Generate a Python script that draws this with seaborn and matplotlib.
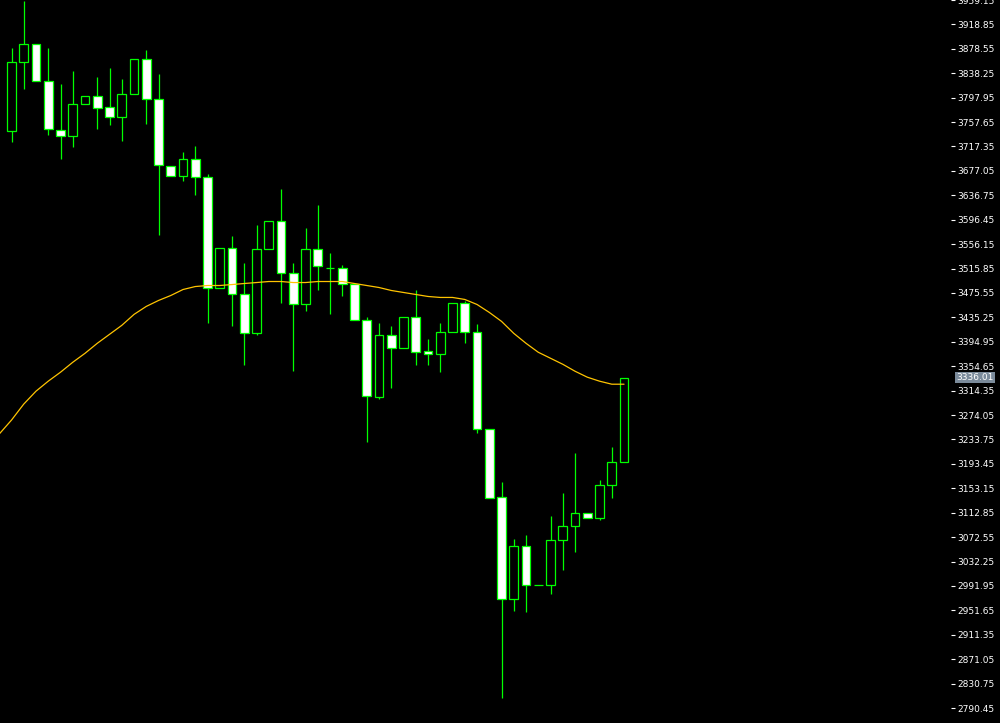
import numpy as np
import pandas as pd
import matplotlib
matplotlib.use("Agg")
import matplotlib.pyplot as plt
import seaborn as sns

# Bar number counted from the left edge of the chart window
bars = list(range(51))

# OHLC prices
open_ = [3742.8, 3856.3, 3885.9, 3825.1, 3744.5, 3734.6, 3787.3, 3800.4, 3782.3, 3765.9,
         3803.7, 3861.3, 3795.5, 3685.3, 3668.8, 3696.8, 3667.2, 3483.0, 3550.4, 3473.1,
         3408.9, 3548.8, 3594.8, 3509.3, 3456.6, 3548.8, 3517.5, 3517.5, 3491.2, 3430.3,
         3303.7, 3405.6, 3384.3, 3435.3, 3379.3, 3374.4, 3410.6, 3458.3, 3410.6, 3251.0,
         3139.2, 2969.7, 3058.6, 2994.4, 2994.4, 3068.4, 3091.5, 3112.9, 3104.6, 3158.9,
         3196.7]
high = [3879.4, 3958.0, 3885.9, 3879.4, 3820.2, 3841.5, 3800.4, 3831.7, 3846.5, 3828.4,
        3861.3, 3876.1, 3836.6, 3685.3, 3708.3, 3718.2, 3672.1, 3550.4, 3570.1, 3525.7,
        3588.2, 3594.8, 3647.4, 3525.7, 3583.3, 3621.1, 3542.2, 3522.4, 3491.2, 3435.3,
        3425.4, 3420.5, 3435.3, 3479.7, 3399.1, 3425.4, 3458.3, 3461.6, 3423.7, 3251.0,
        3163.8, 3070.1, 3076.7, 2994.4, 3107.9, 3145.8, 3211.6, 3112.9, 3167.1, 3221.4,
        3336.0]
low = [3724.8, 3811.9, 3825.1, 3736.3, 3696.8, 3716.5, 3787.3, 3746.1, 3752.7, 3726.4,
       3803.7, 3754.4, 3571.8, 3668.8, 3660.6, 3637.6, 3425.4, 3483.0, 3420.5, 3356.3,
       3405.6, 3548.8, 3458.3, 3346.4, 3445.1, 3479.7, 3440.2, 3469.8, 3430.3, 3229.6,
       3300.4, 3318.5, 3384.3, 3356.3, 3356.3, 3344.8, 3410.6, 3392.5, 3244.4, 3137.5,
       2806.9, 2950.0, 2948.4, 2994.4, 2978.0, 3019.1, 3048.7, 3104.6, 3101.3, 3137.5,
       3196.7]
close = [3856.3, 3885.9, 3825.1, 3746.1, 3734.6, 3787.3, 3800.4, 3780.7, 3765.9, 3803.7,
         3861.3, 3795.5, 3686.9, 3668.8, 3696.8, 3667.2, 3483.0, 3550.4, 3473.1, 3408.9,
         3548.8, 3594.8, 3509.3, 3456.6, 3548.8, 3520.8, 3517.5, 3491.2, 3430.3, 3305.3,
         3405.6, 3384.3, 3435.3, 3377.7, 3374.4, 3410.6, 3458.3, 3410.6, 3251.0, 3137.5,
         2969.7, 3058.6, 2994.4, 2994.4, 3068.4, 3091.5, 3112.9, 3104.6, 3158.9, 3196.7,
         3336.0]

# Moving average, starts one bar left of the window
ma_bars = list(range(-1, 51))
ma_values = [3242.8, 3265.8, 3292.2, 3313.5, 3330.0, 3344.8, 3361.2, 3376.0, 3392.5, 3407.3,
             3422.1, 3440.2, 3453.4, 3463.2, 3471.4, 3481.3, 3486.2, 3487.9, 3487.9, 3489.5,
             3491.2, 3492.8, 3494.5, 3494.5, 3492.8, 3492.8, 3494.5, 3494.5, 3494.5, 3491.2,
             3487.9, 3484.6, 3479.7, 3476.4, 3473.1, 3469.8, 3468.2, 3468.2, 3464.9, 3456.6,
             3443.5, 3428.7, 3408.9, 3392.5, 3377.7, 3367.8, 3357.9, 3346.4, 3336.6, 3330.0,
             3325.0, 3325.0]

# Price scale labels, step 40.3
price_ticks = np.round(2790.45 + 40.3 * np.arange(30), 2)
last_price = 3336.01

df = pd.DataFrame({"bar": bars, "open": open_, "high": high, "low": low, "close": close})
df["bear"] = df["close"] < df["open"]

sns.set_theme(style="dark", rc={"axes.facecolor": "black", "figure.facecolor": "black"})
plt.rcParams["font.family"] = ["DejaVu Sans"]

fig = plt.figure(figsize=(10, 7.23), dpi=100)
ax = fig.add_axes([0, 0, 0.951, 1])

green = "#00ff00"

# wicks first, bodies drawn on top of them
ax.vlines(df["bar"], df["low"], df["high"], color=green, linewidth=0.9, zorder=2)
body_colors = np.where(df["bear"], "white", "black")
ax.bar(df["bar"], (df["close"] - df["open"]).abs(), bottom=df[["open", "close"]].min(axis=1),
       width=0.72, color=body_colors, edgecolor=green, linewidth=0.9, zorder=3)

sns.lineplot(x=ma_bars, y=ma_values, ax=ax, color="#ffc400", linewidth=0.9, zorder=4)

ax.set_xlim(-0.939, 76.69)
ax.set_ylim(2765.8, 3955.0)
ax.set_xticks([])
ax.set_xlabel(None)
ax.set_ylabel(None)
ax.grid(False)
for s in ax.spines.values():
    s.set_visible(False)

# price scale on the right
ax.yaxis.tick_right()
ax.set_yticks(price_ticks)
ax.set_yticklabels([f"{v:.2f}" for v in price_ticks])
ax.tick_params(axis="y", colors="white", length=3, width=0.8, pad=1.5, labelsize=6.5)

# current price marker
ax.annotate(f"{last_price:.2f}", xy=(1.0, last_price), xycoords=("axes fraction", "data"),
            xytext=(4, 0), textcoords="offset points", ha="left", va="center",
            fontsize=6.5, color="white", annotation_clip=False,
            bbox=dict(boxstyle="square,pad=0.15", facecolor="#7b8b9b", edgecolor="none"))

fig.savefig("out.png", dpi=100, facecolor="black")
